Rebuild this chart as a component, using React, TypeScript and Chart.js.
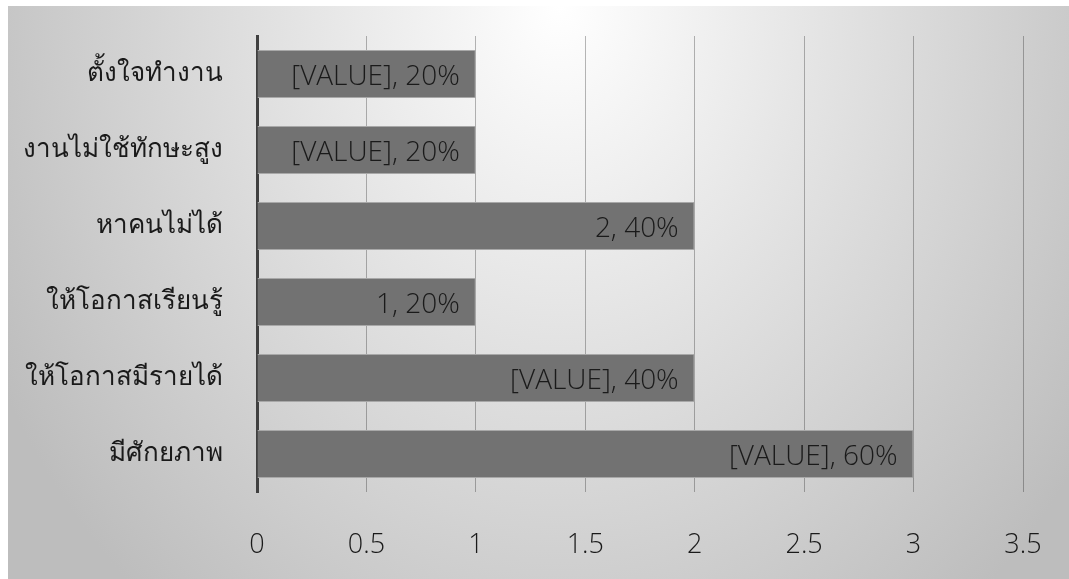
import React, { useEffect, useRef } from "react";
import { Chart, registerables } from "chart.js";

Chart.register(...registerables);

const categories = [
  "ตั้งใจทำงาน",
  "งานไม่ใช้ทักษะสูง",
  "หาคนไม่ได้",
  "ให้โอกาสเรียนรู้",
  "ให้โอกาสมีรายได้",
  "มีศักยภาพ",
];
const values = [1, 1, 2, 1, 2, 3];
const valueTexts = ["[VALUE]", "[VALUE]", "2", "1", "[VALUE]", "[VALUE]"];
const percentTexts = ["20%", "20%", "40%", "20%", "40%", "60%"];
const xMin = 0;
const xMax = 3.5;
const xStep = 0.5;

const W = 1061;
const H = 573;

const barLabelPlugin = {
  id: "barLabels",
  afterDatasetsDraw(chart: any) {
    const ctx = chart.ctx;
    const meta = chart.getDatasetMeta(0);
    ctx.save();
    ctx.font = '300 28px "Open Sans", sans-serif';
    ctx.fillStyle = "#1a1a1a";
    ctx.textAlign = "right";
    ctx.textBaseline = "middle";
    meta.data.forEach((bar: any, i: number) => {
      ctx.fillText(valueTexts[i] + ", " + percentTexts[i], bar.x - 16, bar.y + 3);
    });
    ctx.restore();
  },
};

function zeroPadding(scale: any) {
  scale.paddingTop = 0;
  scale.paddingBottom = 0;
  scale.paddingLeft = 0;
  scale.paddingRight = 0;
}

export default function App() {
  const ref = useRef<HTMLCanvasElement | null>(null);
  useEffect(() => {
    document.body.style.margin = "0";
    const canvas = ref.current!;
    const chart = new Chart(canvas, {
      type: "bar",
      data: {
        labels: categories,
        datasets: [
          {
            data: values,
            backgroundColor: "#727272",
            borderColor: "#a8a8a8",
            borderWidth: 1,
            barPercentage: 0.63,
            categoryPercentage: 1,
          },
        ],
      },
      options: {
        indexAxis: "y",
        responsive: false,
        animation: false,
        layout: { padding: { top: 30, right: 46, left: 0, bottom: 0 } },
        plugins: {
          legend: { display: false },
          tooltip: { enabled: false },
        },
        scales: {
          x: {
            type: "linear",
            min: xMin,
            max: xMax,
            z: 1,
            ticks: {
              stepSize: xStep,
              padding: 37,
              color: "#1a1a1a",
              font: { family: '"Open Sans", sans-serif', size: 27, weight: "300" },
              callback: (v: any) => String(Number(v)),
            },
            grid: {
              color: "rgba(0,0,0,0.28)",
              lineWidth: 1,
              drawTicks: false,
            },
            border: { display: false },
            afterFit(scale: any) {
              scale.height = 87;
              zeroPadding(scale);
            },
          },
          y: {
            type: "category",
            z: 2,
            ticks: {
              padding: 34,
              color: "#1a1a1a",
              font: { family: '"Noto Sans", sans-serif', size: 26, weight: "300" },
            },
            grid: { display: false, drawTicks: false },
            border: { display: true, color: "#404040", width: 3 },
            afterFit(scale: any) {
              scale.width = 249;
              zeroPadding(scale);
            },
          },
        },
      },
      plugins: [barLabelPlugin],
    });
    return () => chart.destroy();
  }, []);

  return (
    <div
      style={{
        position: "fixed",
        left: 8,
        top: 6,
        width: W,
        height: H,
        background:
          "radial-gradient(ellipse 640px 780px at 52% 0%, #ffffff 0%, #bdbdbd 100%)",
      }}
    >
      <canvas ref={ref} width={W} height={H} style={{ display: "block" }} />
    </div>
  );
}
